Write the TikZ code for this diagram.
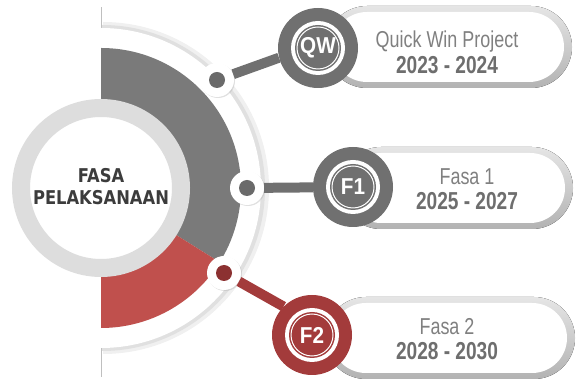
\documentclass[tikz,border=0pt]{standalone}
\usepackage{fontspec}
\setmainfont{Liberation Sans}
\newfontfamily\narrowfont[FakeStretch=0.78]{Liberation Sans}
\newfontfamily\badgefont[FakeStretch=0.9]{Liberation Sans}
\newfontfamily\headfont[FakeStretch=0.86]{DejaVu Sans}
\usetikzlibrary{shadows}
\definecolor{bandgray}{HTML}{7A7A7A}
\definecolor{bandred}{HTML}{C0504D}
\definecolor{ringgray}{HTML}{DDDDDD}
\definecolor{markgray}{HTML}{707070}
\definecolor{markred}{HTML}{A33B3B}
\definecolor{dotgray}{HTML}{6A6A6A}
\definecolor{dotred}{HTML}{8C3131}
\definecolor{pilltext}{HTML}{808080}
\definecolor{yeartext}{HTML}{6E6E6E}
\definecolor{headtext}{HTML}{3C3C3C}
\tikzset{every node/.style={inner sep=0pt},
  rimdot/.style={circle,fill=white,minimum size=34pt,
    drop shadow={shadow xshift=1pt,shadow yshift=-1pt,fill=black!30,opacity=0.4}},
  badge/.style={circle,fill=#1,minimum size=80pt},
  link/.style={line width=10pt,draw=#1},
  pilltitle/.style={font=\narrowfont\fontsize{23}{23}\selectfont,text=pilltext,anchor=base},
  pillyear/.style={font=\narrowfont\bfseries\fontsize{24.5}{24.5}\selectfont,text=yeartext,anchor=base},
  headline/.style={font=\headfont\bfseries\fontsize{19}{19}\selectfont,text=headtext,anchor=base}}
\newcommand{\phasedot}[3]{\node[rimdot] (#2) at (#1) {}; \fill[#3] (#2) circle (8pt)}
\newcommand{\phasebadge}[4]{\node[badge=#3] (#2) at (#1) {};
  \fill[white] (#2) circle (27pt);
  \fill[#3] (#2) circle (23pt);
  \draw[white,line width=1pt] (#2) circle (21pt);
  \node[font=\badgefont\bfseries\fontsize{23}{23}\selectfont,text=white] (#2text) at (#2) {#4}}
\newcommand{\phasepill}[4]{\fill[rounded corners=41pt,top color=black!10,bottom color=black!30] (#1,#2) rectangle (#3,#4);
  \fill[white,rounded corners=35pt] (#1+6,#2+6) rectangle (#3-8,#4-6)}

\begin{document}
\begin{tikzpicture}[x=1pt,y=1pt]
  \useasboundingbox (0,0) rectangle (588,382);

  % half disc behind the phases
  \draw[black!25,line width=1pt] (101,5) -- (101,375);
  \fill[black!6] (103,194+166) arc[start angle=90,end angle=-90,radius=166] -- cycle;
  \fill[black!12] (102,194+163) arc[start angle=90,end angle=-90,radius=163] -- cycle;
  \fill[white] (101,194+160) arc[start angle=90,end angle=-90,radius=160] -- cycle;
  \fill[bandgray] (101,194) -- (101,334) arc[start angle=90,end angle=-32,radius=140] -- cycle;
  \fill[bandred] (101,194) -- ++(-32:140) arc[start angle=-32,end angle=-90,radius=140] -- cycle;

  \node[circle,fill=white,draw=ringgray,line width=18pt,minimum size=160pt] (core) at (101,194) {};
  \node[headline] (headtop) at (101,199) {FASA};
  \node[headline] (headbottom) at (101,177) {PELAKSANAAN};

  % pills
  \phasepill{326}{294}{572}{376};
  \phasepill{340}{153}{573}{235};
  \phasepill{325}{3}{575}{85};
  \node[pilltitle] (qwtitle) at (447,334) {Quick Win Project};
  \node[pillyear] (qwyear) at (447,308) {2023 - 2024};
  \node[pilltitle] (f1title) at (467,197) {Fasa 1};
  \node[pillyear] (f1year) at (467,172) {2025 - 2027};
  \node[pilltitle] (f2title) at (447,47) {Fasa 2};
  \node[pillyear] (f2year) at (447,22) {2028 - 2030};

  \phasedot{217,302}{qwdot}{dotgray};
  \phasedot{247,194}{f1dot}{dotgray};
  \phasedot{224,109}{f2dot}{dotred};

  \phasebadge{318,334}{qwbadge}{markgray}{QW};
  \phasebadge{353,195}{f1badge}{markgray}{F1};
  \phasebadge{312,47}{f2badge}{markred}{F2};

  \draw[link=markgray] (qwdot) -- (qwbadge.194);
  \draw[link=markgray] (f1dot) -- (f1badge);
  \draw[link=markred] (f2dot) -- (f2badge.135);
\end{tikzpicture}
\end{document}
